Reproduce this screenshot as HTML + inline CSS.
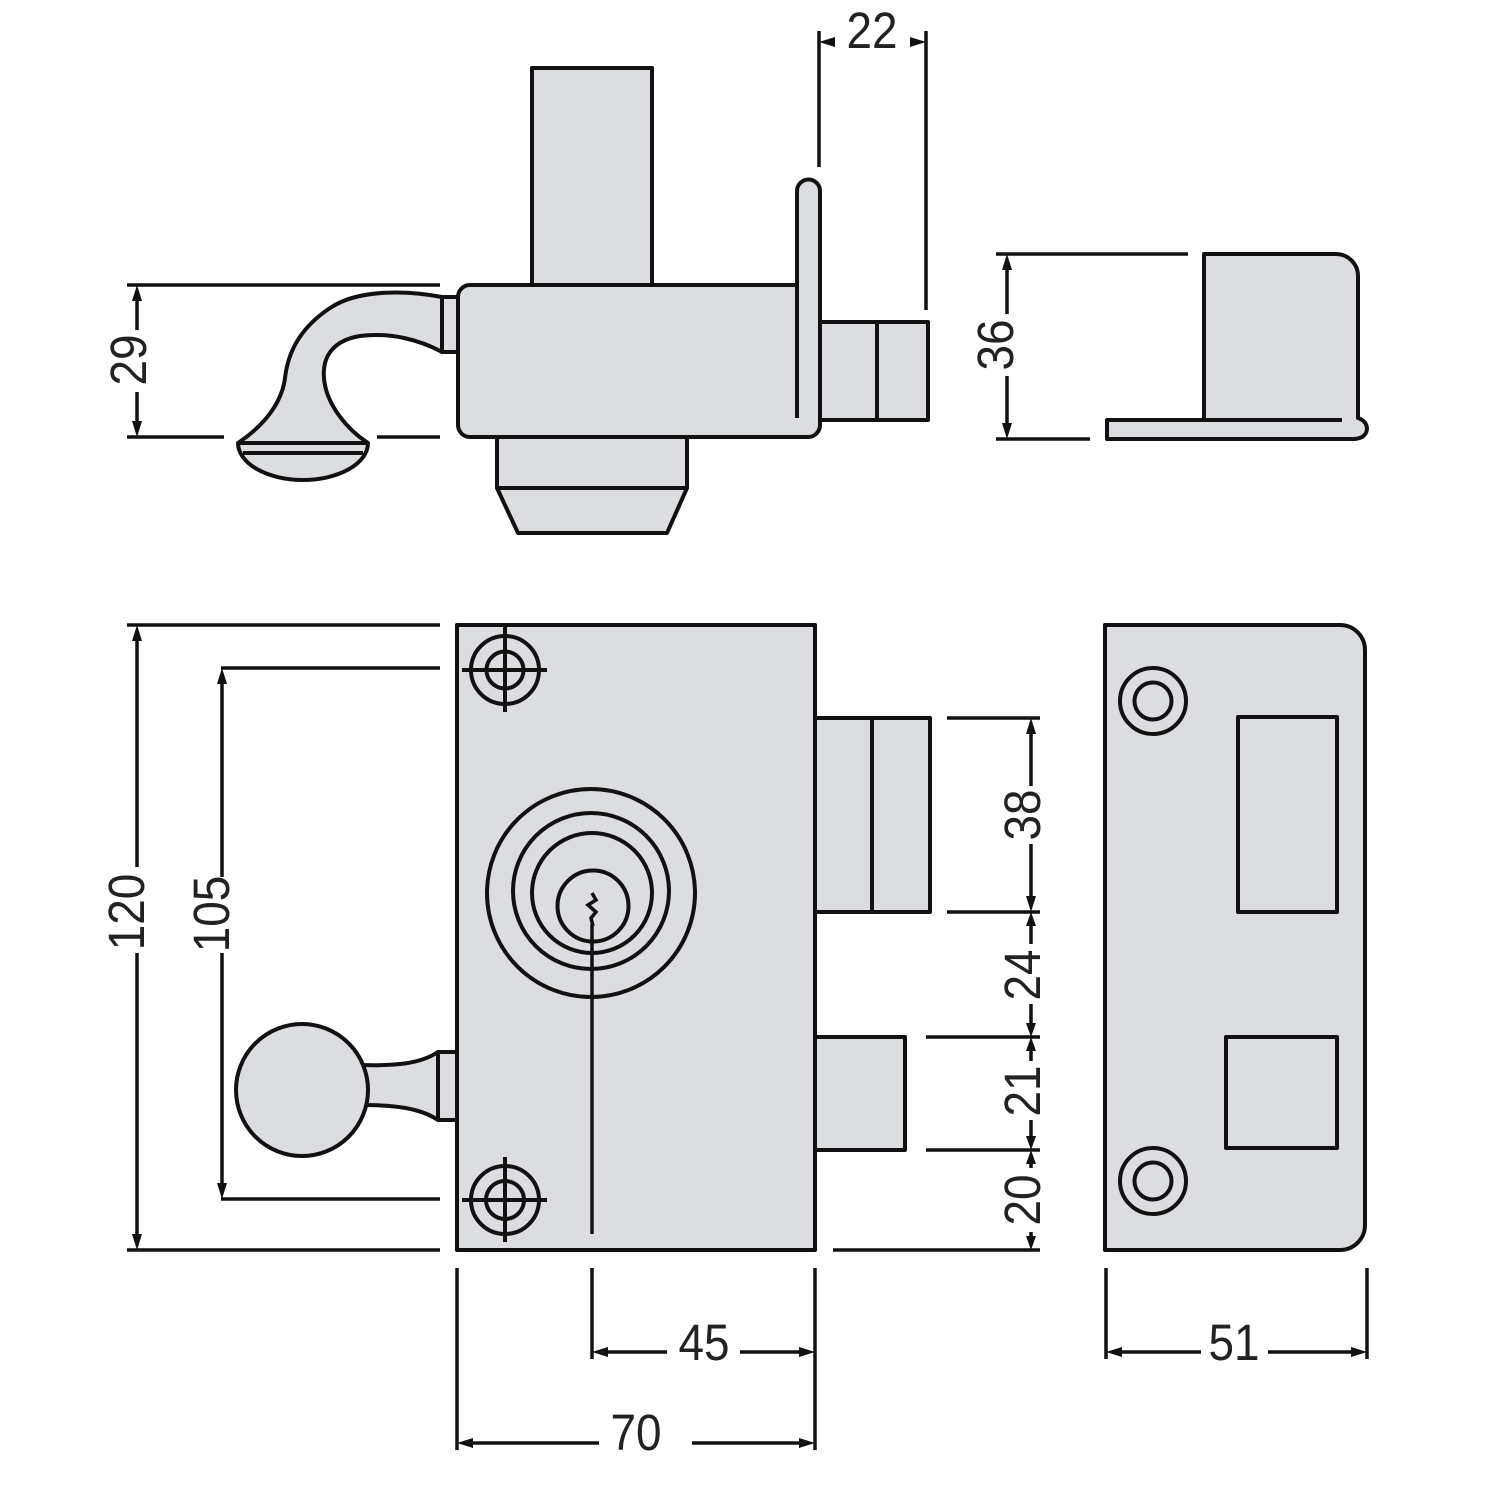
<!DOCTYPE html>
<html>
<head>
<meta charset="utf-8">
<style>
html,body{margin:0;padding:0;background:#fff;}
svg{display:block;}
text{font-family:"Liberation Sans","DejaVu Sans",sans-serif;font-size:51px;fill:#222;}
</style>
</head>
<body>
<svg width="1500" height="1500" viewBox="0 0 1500 1500" xmlns="http://www.w3.org/2000/svg">
<rect x="0" y="0" width="1500" height="1500" fill="#fff"/>

<!-- ================= TOP (SIDE) VIEW ================= -->
<g stroke="#111" stroke-width="4" fill="#dcdde0" stroke-linejoin="round">
  <!-- vertical bar -->
  <rect x="532" y="68" width="120" height="217"/>
  <!-- cylinder below -->
  <rect x="497" y="437" width="190" height="51"/>
  <path d="M497,488 L687,488 L667,533 L518,533 Z"/>
  <!-- bolt -->
  <rect x="820" y="322" width="108" height="98"/>
  <line x1="877" y1="322" x2="877" y2="420"/>
  <!-- body with plate -->
  <path d="M470,285 L797,285 L797,191 A11.5,11.5 0 0 1 820,191 L820,425 A12,12 0 0 1 808,437 L470,437 A12,12 0 0 1 458,425 L458,297 A12,12 0 0 1 470,285 Z"/>
  <line x1="797" y1="285" x2="797" y2="418" fill="none"/>
  <!-- handle lever -->
  <path d="M442,297 C410,291 360,288 330,308 C300,328 288,352 285,378 C282,402 265,425 238,443 A65,37 0 0 0 368,443 C348,430 326,405 324,378 C322,355 335,340 360,336 C390,332 420,340 442,352 Z"/>
  <line x1="240" y1="443" x2="366" y2="443" fill="none"/>
  <line x1="243" y1="453" x2="363" y2="453" fill="none"/>
  <rect x="442" y="297" width="16" height="55"/>
</g>

<!-- 29 dimension -->
<g stroke="#111" stroke-width="3.5" fill="none">
  <line x1="127" y1="285" x2="440" y2="285"/>
  <line x1="127" y1="437" x2="224" y2="437"/>
  <line x1="377" y1="437" x2="440" y2="437"/>
  <line x1="137" y1="295" x2="137" y2="330"/>
  <line x1="137" y1="392" x2="137" y2="427"/>
</g>
<g fill="#111">
  <polygon points="137,285 132,301 142,301"/>
  <polygon points="137,437 132,421 142,421"/>
</g>
<text transform="translate(146,360) rotate(-90) scale(0.9,1)" text-anchor="middle">29</text>

<!-- 22 dimension -->
<g stroke="#111" stroke-width="3.5" fill="none">
  <line x1="819" y1="31" x2="819" y2="167"/>
  <line x1="926" y1="31" x2="926" y2="310"/>
</g>
<g fill="#111">
  <polygon points="819,42 835,37 835,47"/>
  <polygon points="926,42 910,37 910,47"/>
</g>
<text transform="translate(872,48) scale(0.9,1)" text-anchor="middle">22</text>

<!-- ================= STRIKE SIDE VIEW ================= -->
<g stroke="#111" stroke-width="4" fill="#dcdde0" stroke-linejoin="round">
  <path d="M1204,254 L1336,254 A22,22 0 0 1 1358,276 L1358,418 C1368,421 1370,432 1362,437 C1360,438 1358,439 1354,439 L1107,439 L1107,420 L1204,420 Z"/>
  <line x1="1107" y1="420" x2="1342" y2="420" fill="none"/>
</g>
<!-- 36 dimension -->
<g stroke="#111" stroke-width="3.5" fill="none">
  <line x1="996" y1="254" x2="1188" y2="254"/>
  <line x1="996" y1="439" x2="1090" y2="439"/>
  <line x1="1007" y1="264" x2="1007" y2="314"/>
  <line x1="1007" y1="376" x2="1007" y2="429"/>
</g>
<g fill="#111">
  <polygon points="1007,254 1002,270 1012,270"/>
  <polygon points="1007,439 1002,423 1012,423"/>
</g>
<text transform="translate(1013,345) rotate(-90) scale(0.9,1)" text-anchor="middle">36</text>

<!-- ================= FRONT VIEW ================= -->
<g stroke="#111" stroke-width="4" fill="#dcdde0" stroke-linejoin="round">
  <!-- knob stem -->
  <path d="M360,1065 C395,1066 420,1064 438,1052 L438,1120 C420,1108 395,1105 360,1105 Z"/>
  <circle cx="302" cy="1090" r="66"/>
  <rect x="438" y="1052" width="19" height="68"/>
  <!-- body -->
  <rect x="457" y="625" width="358" height="625"/>
  <!-- bolts -->
  <rect x="815" y="718" width="115" height="194"/>
  <line x1="872" y1="718" x2="872" y2="912"/>
  <rect x="815" y="1037" width="90" height="113"/>
</g>
<!-- screws -->
<g stroke="#111" stroke-width="4" fill="none">
  <circle cx="505" cy="670" r="34"/>
  <circle cx="505" cy="670" r="18.5"/>
  <line x1="462" y1="670" x2="547" y2="670"/>
  <line x1="505" y1="627" x2="505" y2="712"/>
  <circle cx="505" cy="1200" r="34"/>
  <circle cx="505" cy="1200" r="19"/>
  <line x1="462" y1="1200" x2="547" y2="1200"/>
  <line x1="505" y1="1157" x2="505" y2="1242"/>
  <!-- cylinder rings -->
  <circle cx="591" cy="893" r="104"/>
  <circle cx="591" cy="891" r="78"/>
  <circle cx="592" cy="893" r="60"/>
  <circle cx="593" cy="906" r="35.5"/>
  <!-- keyway -->
  <polyline points="592,893 596,900 588,905 596,912 591,918 593,926" stroke-width="3.5"/>
  <line x1="592" y1="924" x2="592" y2="1234" stroke-width="3.5"/>
</g>

<!-- 120 / 105 dimensions -->
<g stroke="#111" stroke-width="3.5" fill="none">
  <line x1="127" y1="625" x2="440" y2="625"/>
  <line x1="127" y1="1250" x2="440" y2="1250"/>
  <line x1="137" y1="635" x2="137" y2="867"/>
  <line x1="137" y1="953" x2="137" y2="1240"/>
  <line x1="221" y1="668" x2="440" y2="668"/>
  <line x1="221" y1="1199" x2="440" y2="1199"/>
  <line x1="222" y1="678" x2="222" y2="877"/>
  <line x1="222" y1="953" x2="222" y2="1189"/>
</g>
<g fill="#111">
  <polygon points="137,625 132,641 142,641"/>
  <polygon points="137,1250 132,1234 142,1234"/>
  <polygon points="222,668 217,684 227,684"/>
  <polygon points="222,1199 217,1183 227,1183"/>
</g>
<text transform="translate(144,912) rotate(-90) scale(0.9,1)" text-anchor="middle">120</text>
<text transform="translate(229,914) rotate(-90) scale(0.9,1)" text-anchor="middle">105</text>

<!-- right side dimensions -->
<g stroke="#111" stroke-width="3.5" fill="none">
  <line x1="947" y1="718" x2="1040" y2="718"/>
  <line x1="947" y1="912" x2="1040" y2="912"/>
  <line x1="926" y1="1037" x2="1040" y2="1037"/>
  <line x1="926" y1="1150" x2="1040" y2="1150"/>
  <line x1="833" y1="1250" x2="1040" y2="1250"/>
  <line x1="1031" y1="728" x2="1031" y2="786"/>
  <line x1="1031" y1="844" x2="1031" y2="902"/>
  <line x1="1031" y1="920" x2="1031" y2="944"/>
  <line x1="1031" y1="1004" x2="1031" y2="1028"/>
  <line x1="1031" y1="1045" x2="1031" y2="1061"/>
  <line x1="1031" y1="1120" x2="1031" y2="1142"/>
  <line x1="1031" y1="1158" x2="1031" y2="1168"/>
  <line x1="1031" y1="1232" x2="1031" y2="1242"/>
</g>
<g fill="#111">
  <polygon points="1031,718 1026,734 1036,734"/>
  <polygon points="1031,912 1026,896 1036,896"/>
  <polygon points="1031,912 1026,926 1036,926"/>
  <polygon points="1031,1037 1026,1023 1036,1023"/>
  <polygon points="1031,1037 1026,1051 1036,1051"/>
  <polygon points="1031,1150 1026,1136 1036,1136"/>
  <polygon points="1031,1150 1026,1164 1036,1164"/>
  <polygon points="1031,1250 1026,1236 1036,1236"/>
</g>
<text transform="translate(1040,815) rotate(-90) scale(0.9,1)" text-anchor="middle">38</text>
<text transform="translate(1040,975) rotate(-90) scale(0.9,1)" text-anchor="middle">24</text>
<text transform="translate(1040,1091) rotate(-90) scale(0.9,1)" text-anchor="middle">21</text>
<text transform="translate(1040,1200) rotate(-90) scale(0.9,1)" text-anchor="middle">20</text>

<!-- ================= STRIKE PLATE FRONT ================= -->
<g stroke="#111" stroke-width="4" fill="#dcdde0" stroke-linejoin="round">
  <path d="M1105,625 L1340,625 A25,25 0 0 1 1365,650 L1365,1225 A25,25 0 0 1 1340,1250 L1105,1250 Z"/>
  <rect x="1238" y="717" width="99" height="195"/>
  <rect x="1226" y="1037" width="111" height="111"/>
</g>
<g stroke="#111" stroke-width="4" fill="none">
  <circle cx="1153" cy="701" r="33"/>
  <circle cx="1153" cy="701" r="18.5"/>
  <circle cx="1153" cy="1181" r="33"/>
  <circle cx="1153" cy="1181" r="18.5"/>
</g>

<!-- bottom dimensions -->
<g stroke="#111" stroke-width="3.5" fill="none">
  <line x1="457" y1="1268" x2="457" y2="1450"/>
  <line x1="815" y1="1268" x2="815" y2="1450"/>
  <line x1="592" y1="1268" x2="592" y2="1359"/>
  <line x1="1106" y1="1268" x2="1106" y2="1359"/>
  <line x1="1367" y1="1268" x2="1367" y2="1359"/>
  <line x1="602" y1="1352" x2="667" y2="1352"/>
  <line x1="740" y1="1352" x2="805" y2="1352"/>
  <line x1="467" y1="1443" x2="599" y2="1443"/>
  <line x1="692" y1="1443" x2="805" y2="1443"/>
  <line x1="1116" y1="1352" x2="1201" y2="1352"/>
  <line x1="1268" y1="1352" x2="1357" y2="1352"/>
</g>
<g fill="#111">
  <polygon points="592,1352 608,1347 608,1357"/>
  <polygon points="815,1352 799,1347 799,1357"/>
  <polygon points="457,1443 473,1438 473,1448"/>
  <polygon points="815,1443 799,1438 799,1448"/>
  <polygon points="1106,1352 1122,1347 1122,1357"/>
  <polygon points="1367,1352 1351,1347 1351,1357"/>
</g>
<text transform="translate(704,1360) scale(0.9,1)" text-anchor="middle">45</text>
<text transform="translate(636,1450) scale(0.9,1)" text-anchor="middle">70</text>
<text transform="translate(1234,1360) scale(0.9,1)" text-anchor="middle">51</text>

</svg>
</body>
</html>
